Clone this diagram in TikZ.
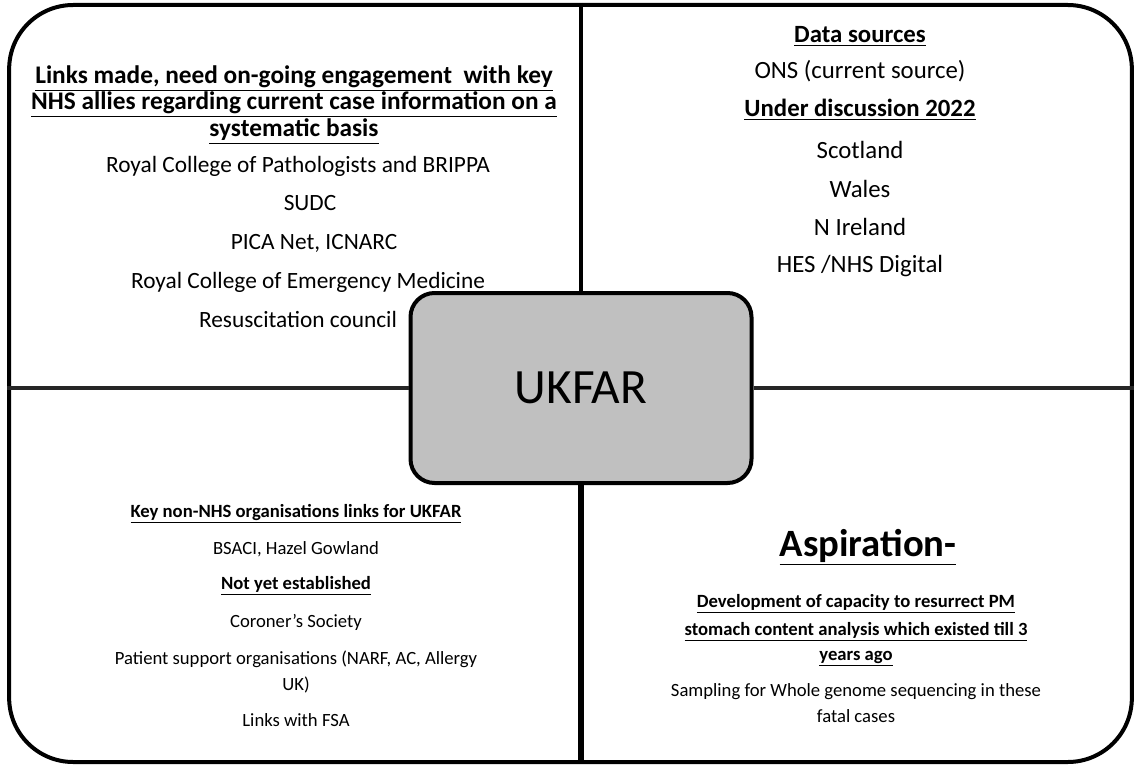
\documentclass[tikz,border=0pt]{standalone}
\usepackage{fontspec}
\setmainfont{Carlito}
\begin{document}
\begin{tikzpicture}[x=0.75pt,y=-0.75pt,
  txt/.style={anchor=base,inner sep=0pt,font=\fontsize{14}{17}\selectfont},
  hd/.style={txt,font=\fontsize{14}{17}\selectfont\bfseries},
  tlhd/.style={txt,font=\fontsize{19}{22}\selectfont\bfseries},
  tlb/.style={txt,font=\fontsize{17.5}{21}\selectfont},
  trhd/.style={txt,font=\fontsize{18.6}{22}\selectfont\bfseries},
  trb/.style={txt,font=\fontsize{18.6}{22}\selectfont},
  frame/.style={draw=black,line width=3pt,rounded corners=48pt,minimum width=842pt,minimum height=567.75pt,inner sep=0pt},
  hub/.style={draw=black,line width=3pt,rounded corners=18pt,fill={rgb,255:red,192;green,192;blue,192},minimum width=255.75pt,minimum height=142.5pt,inner sep=0pt,font=\fontsize{37}{42}\selectfont},
  hline/.style={draw=black!85,line width=2.6pt},
  vtop/.style={draw=black,line width=2.8pt},
  vbot/.style={draw=black,line width=5pt}]
\useasboundingbox (0,0) rectangle (1136,767);
\node[frame] (frame) at (570.5,383.5) {};
\node[hub] (ukfar) at (581,388) {UKFAR};
\draw[hline] (frame.west |- ukfar.west) -- (ukfar.west);
\draw[hline] (ukfar.east) -- (frame.east |- ukfar.east);
\draw[vtop] (frame.north -| ukfar.north) -- (ukfar.north);
\draw[vbot] (ukfar.south) -- (frame.south -| ukfar.south);
% top left
\node[tlhd] (tl1) at (294,84) {\underline{Links made, need on-going engagement\ \ with key}};
\node[tlhd] (tl2) at (294,110) {\underline{NHS allies regarding current case information on a}};
\node[tlhd] (tl3) at (294,137) {\underline{systematic basis}};
\node[tlb] (tl4) at (298,172) {Royal College of Pathologists and BRIPPA};
\node[tlb] (tl5) at (310,210) {SUDC};
\node[tlb] (tl6) at (314,249) {PICA Net, ICNARC};
\node[tlb] (tl7) at (308,288) {Royal College of Emergency Medicine};
\node[tlb] (tl8) at (298,327) {Resuscitation council};
% top right
\node[trhd] (tr1) at (860,43) {\underline{Data sources}};
\node[trb] (tr2) at (860,79) {ONS (current source)};
\node[trhd] (tr3) at (860,117) {\underline{Under discussion\ 2022}};
\node[trb] (tr4) at (860,158) {Scotland};
\node[trb] (tr5) at (860,197) {Wales};
\node[trb] (tr6) at (860,235) {N Ireland};
\node[trb] (tr7) at (860,272) {HES /NHS Digital};
% bottom left
\node[hd] (bl1) at (296,517) {\underline{Key non-NHS organisations\ links for UKFAR}};
\node[txt] (bl2) at (296,554) {BSACI, Hazel Gowland};
\node[hd] (bl3) at (296,589) {\underline{Not yet established}};
\node[txt] (bl4) at (296,627) {Coroner’s Society};
\node[txt] (bl5) at (296,664) {Patient support organisations (NARF, AC, Allergy};
\node[txt] (bl6) at (296,690) {UK)};
\node[txt] (bl7) at (296,726) {Links with FSA};
% bottom right
\node[txt,font=\fontsize{29}{34}\selectfont\bfseries] (br1) at (868,556) {\underline{Aspiration-}};
\node[hd] (br2) at (856,607) {\underline{Development of capacity to resurrect PM}};
\node[hd] (br3) at (856,635) {\underline{stomach\ content analysis\ which existed till 3}};
\node[hd] (br4) at (856,660) {\underline{years ago}};
\node[txt] (br5) at (856,696) {Sampling for Whole genome sequencing in these};
\node[txt] (br6) at (856,722) {fatal cases};
\end{tikzpicture}
\end{document}
